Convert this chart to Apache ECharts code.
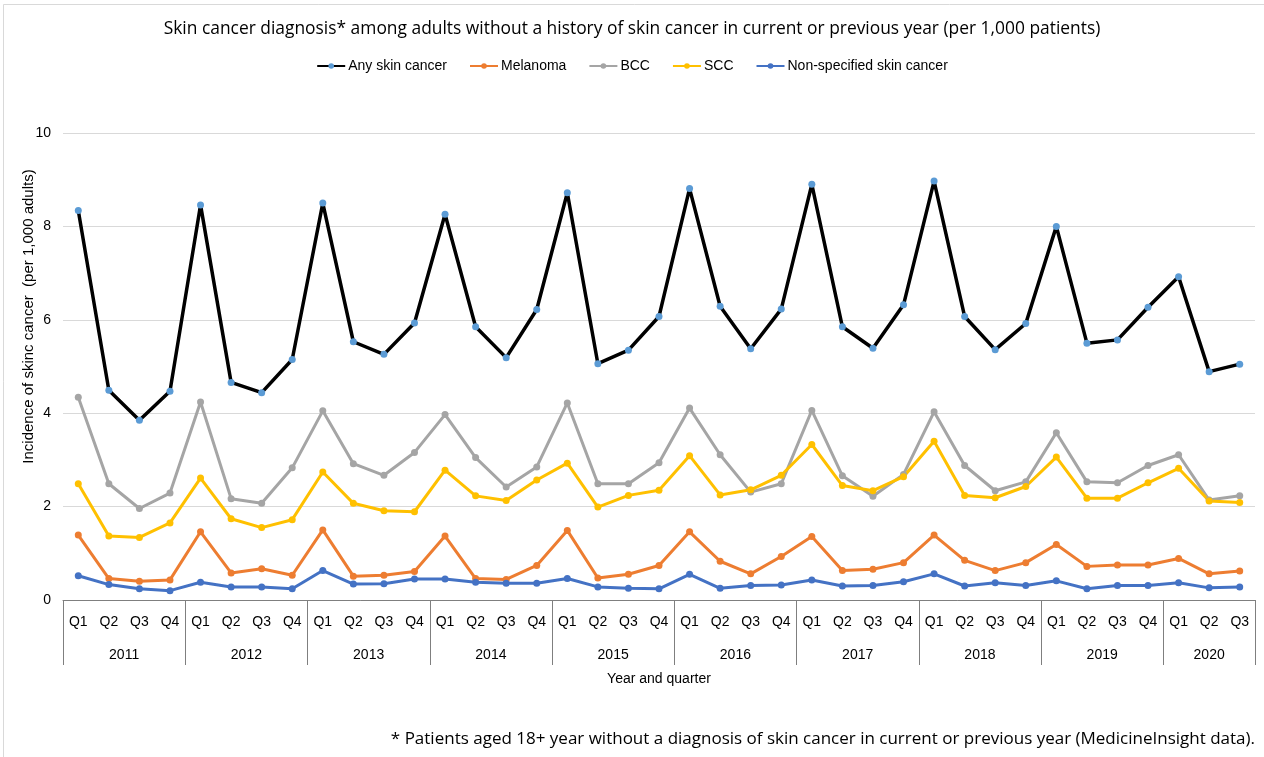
<!DOCTYPE html>
<html>
<head>
<meta charset="utf-8">
<script src="https://cdn.jsdelivr.net/npm/echarts@6/dist/echarts.min.js"></script>
<style>
html,body{margin:0;padding:0;background:#fff;}
#c{width:1264px;height:757px;}
</style>
</head>
<body>
<div id="c"></div>
<script>
const years = ['2011','2012','2013','2014','2015','2016','2017','2018','2019','2020'];
const quartersPerYear = [4,4,4,4,4,4,4,4,4,3];
const quarterNames = ['Q1','Q2','Q3','Q4'];
const yTicks = [0,2,4,6,8,10];

const anySkin = [8.34,4.49,3.85,4.47, 8.46,4.66,4.44,5.15, 8.50,5.53,5.26,5.93, 8.26,5.85,5.19,6.22, 8.72,5.06,5.35,6.07, 8.81,6.29,5.38,6.23, 8.90,5.85,5.39,6.32, 8.97,6.07,5.36,5.92, 8.00,5.50,5.57,6.27, 6.92,4.89,5.05];
const melanoma = [1.39,0.46,0.40,0.43, 1.46,0.58,0.67,0.53, 1.50,0.51,0.53,0.61, 1.37,0.46,0.44,0.74, 1.49,0.47,0.55,0.74, 1.46,0.83,0.56,0.93, 1.36,0.63,0.66,0.80, 1.39,0.85,0.63,0.80, 1.19,0.72,0.75,0.75, 0.89,0.56,0.62];
const bcc = [4.34,2.49,1.96,2.29, 4.24,2.17,2.07,2.83, 4.05,2.92,2.67,3.16, 3.97,3.05,2.42,2.85, 4.22,2.49,2.49,2.94, 4.11,3.11,2.31,2.49, 4.06,2.66,2.22,2.69, 4.03,2.88,2.34,2.53, 3.58,2.53,2.51,2.88, 3.11,2.14,2.23];
const scc = [2.49,1.37,1.34,1.65, 2.61,1.74,1.55,1.72, 2.74,2.07,1.91,1.89, 2.78,2.23,2.13,2.57, 2.93,1.99,2.24,2.35, 3.09,2.25,2.36,2.67, 3.33,2.45,2.34,2.64, 3.40,2.24,2.19,2.43, 3.06,2.18,2.18,2.51, 2.82,2.12,2.09];
const nonSpecified = [0.52,0.33,0.24,0.20, 0.38,0.28,0.28,0.24, 0.63,0.34,0.35,0.45, 0.45,0.38,0.36,0.36, 0.46,0.28,0.25,0.24, 0.55,0.25,0.31,0.32, 0.43,0.30,0.31,0.39, 0.56,0.30,0.37,0.31, 0.41,0.24,0.31,0.31, 0.37,0.26,0.28];

// build category list and year-boundary positions
const categories = [];
const boundaries = [0];
const yearCenters = [];
let pos = 0;
years.forEach((y, i) => {
  const n = quartersPerYear[i];
  for (let q = 0; q < n; q++) categories.push(y + ' ' + quarterNames[q]);
  yearCenters.push(pos + n / 2);
  pos += n;
  boundaries.push(pos);
});

const FONT = 'Liberation Sans';
const FONT2 = 'Open Sans';
const chart = echarts.init(document.getElementById('c'));

function mkSeries(name, data, lineColor, dotColor, width) {
  return {
    name: name, type: 'line', data: data,
    xAxisIndex: 0, yAxisIndex: 0,
    symbol: 'circle', symbolSize: 7,
    lineStyle: { color: lineColor, width: width },
    itemStyle: { color: dotColor },
    emphasis: { disabled: true },
    z: 3
  };
}

chart.setOption({
  animation: false,
  backgroundColor: '#ffffff',
  textStyle: { fontFamily: FONT },
  title: {
    text: 'Skin cancer diagnosis* among adults without a history of skin cancer in current or previous year (per 1,000 patients)',
    left: 'center', top: 16,
    textStyle: { fontFamily: FONT2, fontSize: 17.4, fontWeight: 'normal', color: '#000' }
  },
  legend: {
    top: 54, left: 'center',
    itemWidth: 28, itemHeight: 7, itemGap: 22,
    textStyle: { fontFamily: FONT, fontSize: 14, color: '#000', padding: [0,0,0,-2] },
    data: ['Any skin cancer','Melanoma','BCC','SCC','Non-specified skin cancer']
  },
  grid: { left: 63, right: 9, top: 133, bottom: 157, containLabel: false },
  xAxis: [
    {
      type: 'category', data: categories, boundaryGap: true,
      axisLine: { show: true, lineStyle: { color: '#7f7f7f', width: 1 } },
      axisTick: { show: false },
      axisLabel: {
        interval: 0, margin: 15, color: '#000', fontSize: 14, fontFamily: FONT,
        formatter: v => v.split(' ')[1]
      },
      name: 'Year and quarter', nameLocation: 'middle', nameGap: 72, nameMoveOverlap: false,
      nameTextStyle: { fontFamily: FONT, fontSize: 14, color: '#000' },
      splitLine: { show: false }
    },
    {
      type: 'value', min: 0, max: categories.length, position: 'bottom',
      axisLine: { show: false },
      splitLine: { show: false },
      axisTick: { show: true, customValues: boundaries, length: 65, inside: false,
                  lineStyle: { color: '#7f7f7f', width: 1 } },
      axisLabel: {
        show: true, customValues: yearCenters, margin: 48, color: '#000', fontSize: 14, fontFamily: FONT,
        formatter: v => { const i = yearCenters.indexOf(v); return i >= 0 ? years[i] : ''; }
      }
    }
  ],
  yAxis: {
    type: 'value', min: yTicks[0], max: yTicks[yTicks.length - 1], interval: 2,
    axisLine: { show: false }, axisTick: { show: false },
    axisLabel: { margin: 12, color: '#000', fontSize: 14, fontFamily: FONT,
                 customValues: yTicks },
    splitLine: { show: true, lineStyle: { color: '#d9d9d9', width: 1 } },
    name: 'Incidence of skinc cancer  (per 1,000 adults)', nameLocation: 'middle', nameGap: 27,
    nameMoveOverlap: false,
    nameTextStyle: { fontFamily: FONT, fontSize: 15, color: '#000', padding: [0, 0, 0, 100] }
  },
  graphic: [
    { type: 'rect', shape: { x: 3.5, y: 4.5, width: 1300, height: 800 },
      style: { fill: 'none', stroke: '#d9d9d9', lineWidth: 1 }, silent: true, z: -10 },
    { type: 'text', right: 9, top: 731,
      style: { text: '* Patients aged 18+ year without a diagnosis of skin cancer in current or previous year (MedicineInsight data).',
               fontFamily: FONT2, fontSize: 17, fill: '#000' } }
  ],
  series: [
    mkSeries('Any skin cancer', anySkin, '#000000', '#5b9bd5', 3.5),
    mkSeries('Melanoma', melanoma, '#ed7d31', '#ed7d31', 3),
    mkSeries('BCC', bcc, '#a5a5a5', '#a5a5a5', 3),
    mkSeries('SCC', scc, '#ffc000', '#ffc000', 3),
    mkSeries('Non-specified skin cancer', nonSpecified, '#4472c4', '#4472c4', 3)
  ]
});
</script>
</body>
</html>
